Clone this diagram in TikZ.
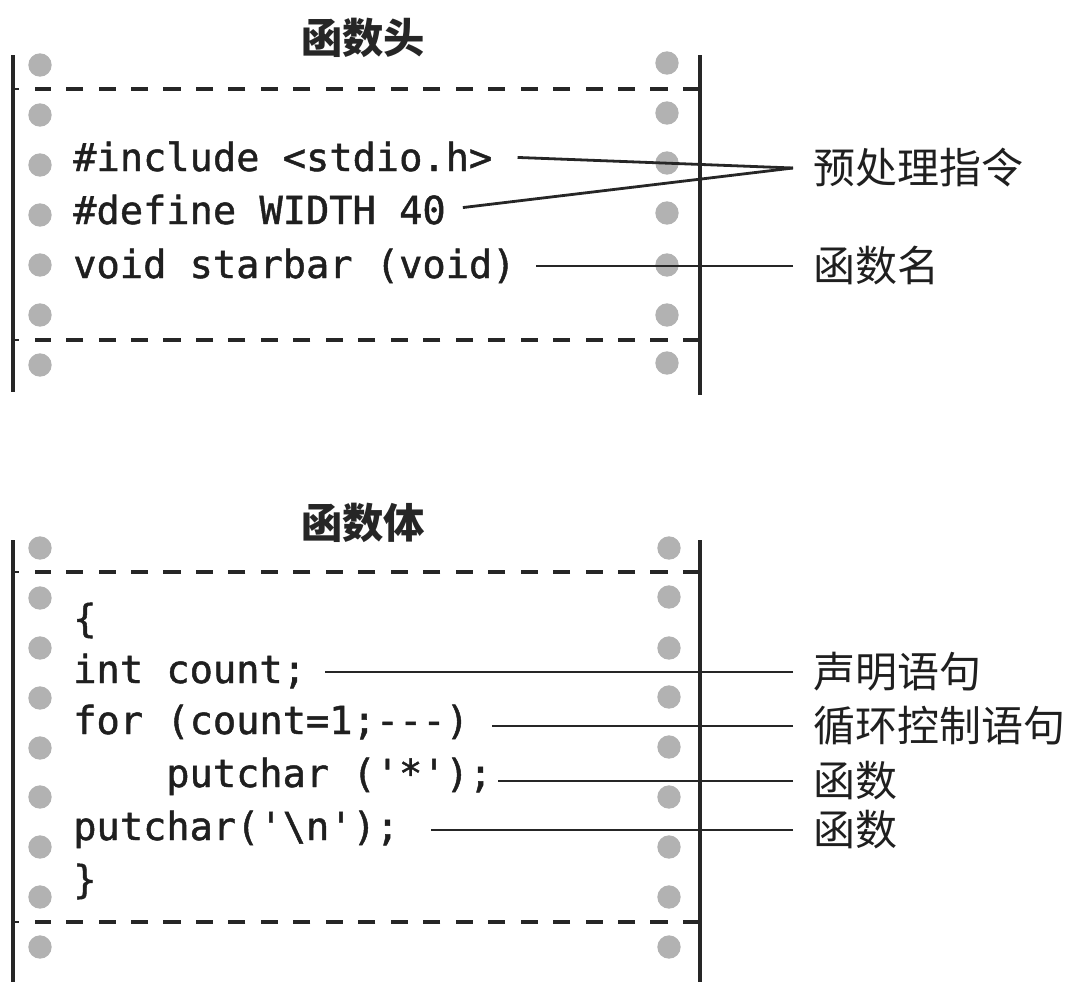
\documentclass[tikz,border=0pt]{standalone}
\usepackage{fontspec}
\newfontfamily\cjk{Noto Sans CJK SC}
\newfontfamily\codefont[FakeBold=1.2]{DejaVu Sans Mono}
\usetikzlibrary{calc}
\begin{document}
\begin{tikzpicture}[x=0.75pt,y=-0.75pt,
  frame/.style={line width=2.4pt, draw=black!85},
  sepline/.style={line width=2.3pt, draw=black!85, dash pattern=on 12.8pt off 11.55pt},
  hole/.style={circle, fill=black!30, minimum size=17.5pt, inner sep=0pt},
  code/.style={font=\codefont\fontsize{29}{34}\selectfont, inner sep=0pt, anchor=base west, text=black!88},
  lab/.style={font=\cjk\fontsize{31.5}{36}\selectfont, inner ysep=0pt, inner xsep=15pt, anchor=west, text=black!88},
  ttl/.style={font=\cjk\bfseries\fontsize{31}{36}\selectfont, inner sep=0pt, text=black!85},
  conn/.style={line width=2.1pt, draw=black!85}]
\useasboundingbox (0,0) rectangle (1078,982);

% ---------- top panel: function header ----------
\node[ttl] (t1) at (363,38) {函数头};
\coordinate (tlT) at (13,55);  \coordinate (tlB) at (13,392);
\coordinate (trT) at (700,55); \coordinate (trB) at (700,395);
\draw[frame] (tlT) -- (tlB);
\draw[frame] (trT) -- (trB);
\coordinate (d1r) at (700,89);  \coordinate (d1l) at (35,89);
\coordinate (d2r) at (700,340); \coordinate (d2l) at (35,340);
\draw[sepline] (d1r) -- (d1l);
\draw[sepline] (d2r) -- (d2l);
\draw[conn] (13,89) -- (19,89);
\draw[conn] (13,340) -- (19,340);
\foreach \y [count=\i] in {65,115,165,215,265,315,365}
  \node[hole] (hl\i) at (40,\y) {};
\foreach \y [count=\i] in {63,113,163,213,265,315,363}
  \node[hole] (hr\i) at (667,\y) {};

\node[code] (inc) at (73,171) {\#include <stdio.h>};
\node[code] (def) at (73,224) {\#define WIDTH 40};
\node[code] (vsb) at (73,278) {void starbar (void)};

\node[lab] (pre) at (793,168) {预处理指令};
\node[lab] (fname) at (793,266) {函数名};

\draw[conn, shorten >=18.75pt] (pre.west) -- (inc.east);
\draw[conn, shorten >=12.75pt] (pre.west) -- (def.east);
\draw[conn, shorten >=15pt] (fname.west) -- (fname.west -| vsb.east);

% ---------- bottom panel: function body ----------
\node[ttl] (t2) at (363,523) {函数体};
\coordinate (blT) at (13,540);  \coordinate (blB) at (13,982);
\coordinate (brT) at (700,540); \coordinate (brB) at (700,982);
\draw[frame] (blT) -- (blB);
\draw[frame] (brT) -- (brB);
\coordinate (d3r) at (700,572); \coordinate (d3l) at (35,572);
\coordinate (d4r) at (700,922); \coordinate (d4l) at (35,922);
\draw[sepline] (d3r) -- (d3l);
\draw[sepline] (d4r) -- (d4l);
\draw[conn] (13,572) -- (19,572);
\draw[conn] (13,922) -- (19,922);
\foreach \y [count=\i] in {548,598,648,698,748,797,847,897,947}
  \node[hole] (bl\i) at (40,\y) {};
\foreach \y [count=\i] in {548,597,648,697,747,797,847,897,947}
  \node[hole] (br\i) at (669,\y) {};

\node[code] (ob) at (73,632) {\{};
\node[code] (cnt) at (73,683) {int count;};
\node[code] (lp) at (73,734) {for (count=1;---)};
\node[code] (pc1) at (166,787) {putchar ('*');};
\node[code] (pc2) at (73,840) {putchar('\textbackslash n');};
\node[code] (cb) at (73,893) {\}};

\node[lab] (decl) at (793,672) {声明语句};
\node[lab] (loop) at (793,726) {循环控制语句};
\node[lab] (fn1) at (793,781) {函数};
\node[lab] (fn2) at (793,830) {函数};

\draw[conn, shorten >=14pt] (decl.west) -- (decl.west -| cnt.east);
\draw[conn, shorten >=17pt] (loop.west) -- (loop.west -| lp.east);
\draw[conn, shorten >=4.5pt] (fn1.west) -- (fn1.west -| pc1.east);
\draw[conn, shorten >=24pt] (fn2.west) -- (fn2.west -| pc2.east);
\end{tikzpicture}
\end{document}
